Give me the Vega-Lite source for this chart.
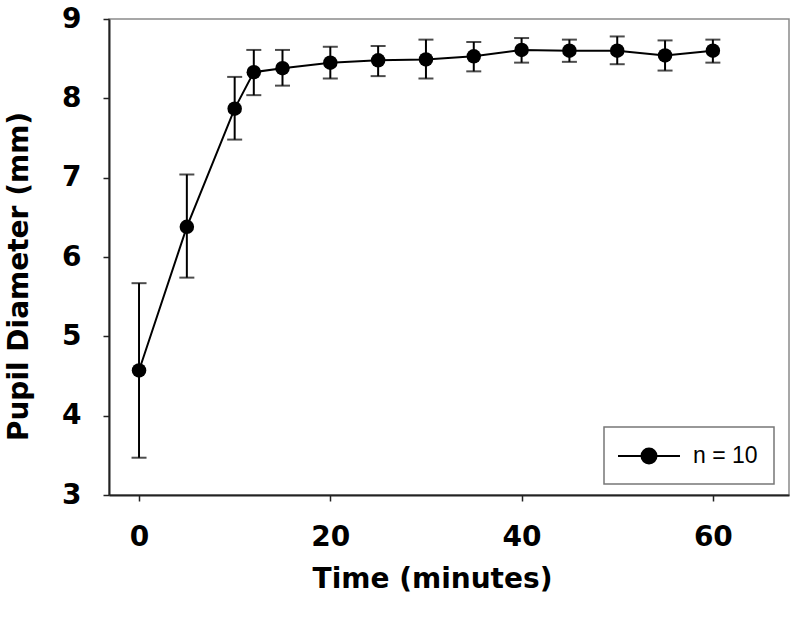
{
  "$schema": "https://vega.github.io/schema/vega-lite/v6.json",
  "autosize": "none",
  "width": 680,
  "height": 476,
  "padding": {"left": 109, "top": 19, "right": 11, "bottom": 130},
  "background": "white",
  "config": {
    "view": {"stroke": "#8a8a8a", "strokeWidth": 1.5},
    "axis": {
      "grid": false,
      "domainColor": "#222",
      "domainWidth": 2,
      "tickColor": "#222",
      "tickWidth": 1.5,
      "tickSize": 6,
      "labelFont": "DejaVu Sans",
      "labelFontWeight": "bold",
      "labelFontSize": 28,
      "labelColor": "black",
      "labelPadding": 22,
      "titleFont": "DejaVu Sans",
      "titleFontWeight": "bold",
      "titleFontSize": 28,
      "titleColor": "black"
    }
  },
  "data": {
    "values": [
      {"t": 0, "mean": 4.57, "lo": 3.47, "hi": 5.67, "series": "n = 10"},
      {"t": 5, "mean": 6.38, "lo": 5.74, "hi": 7.04, "series": "n = 10"},
      {"t": 10, "mean": 7.87, "lo": 7.48, "hi": 8.27, "series": "n = 10"},
      {"t": 12, "mean": 8.33, "lo": 8.04, "hi": 8.61, "series": "n = 10"},
      {"t": 15, "mean": 8.38, "lo": 8.16, "hi": 8.61, "series": "n = 10"},
      {"t": 20, "mean": 8.45, "lo": 8.25, "hi": 8.65, "series": "n = 10"},
      {"t": 25, "mean": 8.48, "lo": 8.28, "hi": 8.66, "series": "n = 10"},
      {"t": 30, "mean": 8.49, "lo": 8.25, "hi": 8.74, "series": "n = 10"},
      {"t": 35, "mean": 8.53, "lo": 8.34, "hi": 8.71, "series": "n = 10"},
      {"t": 40, "mean": 8.61, "lo": 8.45, "hi": 8.76, "series": "n = 10"},
      {"t": 45, "mean": 8.6, "lo": 8.46, "hi": 8.74, "series": "n = 10"},
      {"t": 50, "mean": 8.6, "lo": 8.43, "hi": 8.78, "series": "n = 10"},
      {"t": 55, "mean": 8.54, "lo": 8.35, "hi": 8.73, "series": "n = 10"},
      {"t": 60, "mean": 8.6, "lo": 8.45, "hi": 8.74, "series": "n = 10"}
    ]
  },
  "encoding": {
    "x": {
      "field": "t",
      "type": "quantitative",
      "scale": {"domain": [-3.14, 67.96], "nice": false, "zero": false},
      "axis": {"values": [0, 20, 40, 60], "format": "d", "title": "Time (minutes)", "titleX": 323, "titleY": 92, "titleBaseline": "alphabetic"}
    }
  },
  "layer": [
    {
      "mark": {"type": "rule", "color": "black", "strokeWidth": 2},
      "encoding": {
        "y": {"field": "lo", "type": "quantitative", "scale": {"domain": [3, 9], "nice": false, "zero": false}, "axis": {"values": [3, 4, 5, 6, 7, 8, 9], "format": "d", "title": "Pupil Diameter (mm)", "titleX": -82, "titleY": 257, "titleAngle": -90, "titleBaseline": "alphabetic", "titleAlign": "center"}},
        "y2": {"field": "hi"}
      }
    },
    {
      "mark": {"type": "tick", "color": "black", "orient": "horizontal", "size": 15, "thickness": 2},
      "encoding": {"y": {"field": "lo", "type": "quantitative"}}
    },
    {
      "mark": {"type": "tick", "color": "black", "orient": "horizontal", "size": 15, "thickness": 2},
      "encoding": {"y": {"field": "hi", "type": "quantitative"}}
    },
    {
      "mark": {"type": "line", "color": "black", "strokeWidth": 2},
      "encoding": {"y": {"field": "mean", "type": "quantitative"}}
    },
    {
      "mark": {"type": "point", "filled": true, "size": 210, "opacity": 1, "shape": "circle"},
      "encoding": {
        "y": {"field": "mean", "type": "quantitative"},
        "color": {
          "field": "series",
          "type": "nominal",
          "scale": {"range": ["black"]},
          "legend": {
            "title": null,
            "orient": "none",
            "legendX": 495,
            "legendY": 408,
            "fillColor": "white",
            "strokeColor": "#777",
            "padding": 16,
            "symbolType": "M-2.583,0H2.583M-0.625,0A0.625,0.625,0,1,1,0.625,0A0.625,0.625,0,1,1,-0.625,0Z",
            "symbolSize": 576,
            "symbolOffset": 16,
            "symbolStrokeColor": "black",
            "symbolFillColor": "black",
            "symbolStrokeWidth": 2,
            "symbolOpacity": 1,
            "labelFont": "Liberation Sans",
            "labelFontSize": 23,
            "labelColor": "black",
            "labelOffset": 31,
            "labelExpr": "datum.label + '\u2003'",
            "encode": {"legend": {"update": {"strokeWidth": {"value": 1.5}}}}
          }
        }
      }
    }
  ]
}
